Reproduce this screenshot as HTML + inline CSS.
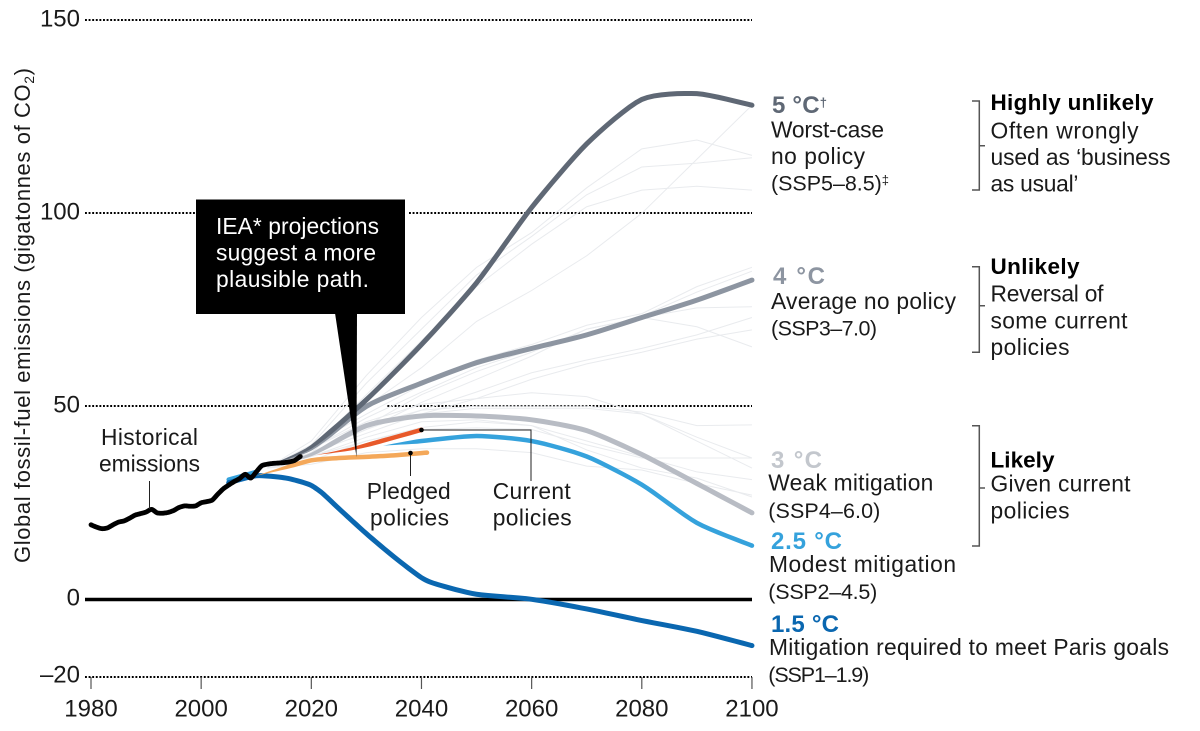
<!DOCTYPE html>
<html lang="en">
<head>
<meta charset="utf-8">
<title>Global fossil-fuel emissions scenarios</title>
<style>
html,body{margin:0;padding:0;background:#fff;width:1200px;height:731px;overflow:hidden}
svg{display:block}
text{font-family:"Liberation Sans",sans-serif;font-size:22.800px;fill:#1a1a1a}
.b{font-weight:700;font-size:22.500px}
.t{font-weight:700;font-size:24px}
.s{font-size:21.500px}
.tick{font-size:24px}
</style>
</head>
<body>
<svg id="chart" xmlns="http://www.w3.org/2000/svg" width="1200" height="731" viewBox="0 0 1200 731">
<g id="grid"></g>
<g id="thin"></g>
<g id="series"></g>
<g id="ticks"></g>

<text transform="translate(30 563) rotate(-90)" style="font-size:22px" textLength="495" lengthAdjust="spacing">Global fossil-fuel emissions (gigatonnes of CO<tspan dy="4" style="font-size:14px">2</tspan><tspan dy="-4">)</tspan></text>

<g>
<polygon points="335,313 357,313 356.500,457" fill="#000"/>
<rect x="196" y="199.500" width="209" height="114.500" fill="#000"/>
<text x="216" y="234" style="fill:#fff" textLength="163" lengthAdjust="spacing">IEA* projections</text>
<text x="216" y="260.500" style="fill:#fff" textLength="160" lengthAdjust="spacing">suggest a more</text>
<text x="216" y="287" style="fill:#fff" textLength="153" lengthAdjust="spacing">plausible path.</text>
</g>

<g >
<line x1="149.500" y1="481" x2="149.500" y2="509" stroke="#222" stroke-width="1"/>
<text x="101" y="445" textLength="97" lengthAdjust="spacing">Historical</text>
<text x="99" y="471.700" textLength="101" lengthAdjust="spacing">emissions</text>
<line x1="410.500" y1="453" x2="410.500" y2="476" stroke="#222" stroke-width="1"/>
<circle cx="410.500" cy="453" r="2.300" fill="#000"/>
<text x="366.700" y="499" textLength="84" lengthAdjust="spacing">Pledged</text>
<text x="370" y="525.700" textLength="79" lengthAdjust="spacing">policies</text>
<polyline points="421.500,430 531,430 531,481" fill="none" stroke="#222" stroke-width="1"/>
<circle cx="421.500" cy="430" r="2.300" fill="#000"/>
<text x="492.700" y="499" textLength="78" lengthAdjust="spacing">Current</text>
<text x="492.700" y="525.700" textLength="79" lengthAdjust="spacing">policies</text>
</g>

<g>
<text class="t" x="772" y="113" style="fill:#5f6875" textLength="55" lengthAdjust="spacing">5 °C<tspan dy="-6" style="font-size:13px">†</tspan></text>
<text x="771" y="137.500" textLength="113" lengthAdjust="spacing">Worst-case</text>
<text x="771" y="164" textLength="94" lengthAdjust="spacing">no policy</text>
<text class="s" x="771" y="190.600" textLength="118" lengthAdjust="spacing">(SSP5–8.5)<tspan dy="-6" style="font-size:13px">‡</tspan></text>
<text class="t" x="773" y="284" style="fill:#8d95a1" textLength="52" lengthAdjust="spacing">4 °C</text>
<text x="771" y="309" textLength="185" lengthAdjust="spacing">Average no policy</text>
<text class="s" x="771" y="335.600" textLength="106" lengthAdjust="spacing">(SSP3–7.0)</text>
<text class="t" x="771" y="468" style="fill:#c3c7cd" textLength="51" lengthAdjust="spacing">3 °C</text>
<text x="768.300" y="490.700" textLength="165" lengthAdjust="spacing">Weak mitigation</text>
<text class="s" x="768.300" y="518" textLength="112" lengthAdjust="spacing">(SSP4–6.0)</text>
<text class="t" x="771" y="549" style="fill:#35a2dc" textLength="71" lengthAdjust="spacing">2.5 °C</text>
<text x="769" y="572" textLength="187" lengthAdjust="spacing">Modest mitigation</text>
<text class="s" x="768.300" y="599" textLength="109" lengthAdjust="spacing">(SSP2–4.5)</text>
<text class="t" x="771" y="632" style="fill:#0a67b0" textLength="68" lengthAdjust="spacing">1.5 °C</text>
<text x="769" y="655" textLength="400" lengthAdjust="spacing">Mitigation required to meet Paris goals</text>
<text class="s" x="768.300" y="682" textLength="101" lengthAdjust="spacing">(SSP1–1.9)</text>
</g>

<g>
<path d="M972 101H979.300V190H972M979.300 145.700H985" fill="none" stroke="#555" stroke-width="1.500"/>
<text class="b" x="990.500" y="110" style="fill:#000" textLength="163" lengthAdjust="spacing">Highly unlikely</text>
<text x="990.500" y="138.300" textLength="148" lengthAdjust="spacing">Often wrongly</text>
<text x="990.500" y="165" textLength="180" lengthAdjust="spacing">used as ‘business</text>
<text x="990.500" y="191.700" textLength="88" lengthAdjust="spacing">as usual’</text>
<path d="M972 266.700H979.300V352.300H972M979.300 305.700H985" fill="none" stroke="#555" stroke-width="1.500"/>
<text class="b" x="990.500" y="274" style="fill:#000" textLength="89" lengthAdjust="spacing">Unlikely</text>
<text x="990.500" y="301.700" textLength="113" lengthAdjust="spacing">Reversal of</text>
<text x="990.500" y="328.300" textLength="137" lengthAdjust="spacing">some current</text>
<text x="990.500" y="355" textLength="79" lengthAdjust="spacing">policies</text>
<path d="M972 425.700H979.300V546H972M979.300 488H985" fill="none" stroke="#555" stroke-width="1.500"/>
<text class="b" x="990.500" y="467.700" style="fill:#000" textLength="64" lengthAdjust="spacing">Likely</text>
<text x="990.500" y="491.700" textLength="140" lengthAdjust="spacing">Given current</text>
<text x="990.500" y="518.300" textLength="79" lengthAdjust="spacing">policies</text>
</g>
</svg>

<script>
const xTickYears = [1980, 2000, 2020, 2040, 2060, 2080, 2100];
const yDottedTicks = [150, 100, 50, -20];
const yTickLabels = ["150", "100", "50", "0", "–20"];
const yTickValues = [150, 100, 50, 0, -20];

const histYears = [1980,1981,1982,1983,1984,1985,1986,1987,1988,1989,1990,1991,1992,1993,1994,1995,1996,1997,1998,1999,2000,2001,2002,2003,2004,2005,2006,2007,2008,2009,2010,2011,2012,2013,2014,2015,2016,2017,2018];
const histValues = [19.3,18.7,18.3,18.5,19.3,20,20.3,21,21.8,22.2,22.6,23.3,22.4,22.3,22.5,23,23.8,24.2,24.1,24.2,25,25.3,25.7,27.2,28.6,29.6,30.5,31.3,32.4,31.4,33,34.6,35,35.2,35.3,35.4,35.6,36,37];

const fanYears = [2012,2020,2030,2040,2050,2060,2070,2080,2090,2100];
const ssp585 = [34.5,39.5,51.7,66,82,101.5,118,129.5,131,128];
const ssp370 = [34.5,39,50,56,61.3,65,68.5,73,77.5,82.7];
const ssp460 = [34.5,37.5,45,47.5,47.5,46.5,43.7,37.5,30,22.4];

const ssp245Years = [2033,2040,2050,2060,2070,2080,2090,2100];
const ssp245 = [39.8,41,42.3,41,37,29.7,19.8,13.9];
const ssp245HistYears = [2005,2010];
const ssp245Hist = [31,33];

const ssp119Years = [2005,2010,2015,2018,2020,2022,2025,2030,2035,2040,2043,2050,2060,2070,2080,2090,2100];
const ssp119 = [30.2,32,31.5,30.5,29.5,27.5,23.5,17,11,5.6,3.8,1.3,0,-2.5,-5.5,-8.3,-12];

const currentYears = [2021,2028,2040];
const currentPolicies = [37.4,39.2,43.9];
const pledgedYears = [2010,2015,2020,2025,2030,2035,2041];
const pledgedPolicies = [32,34,36,36.6,36.9,37.3,38];

const thinA = [34,38,50,60,72,80,89,100,114,128];
const thinB = [34,41,58,73,86,95,106.6,116.7,119,115];
const thinC = [34,40,56,70,84,94,104.8,112,113,114.4];
const thinD = [34,39,53,67,81,92,101.7,106,107,106];
const thinE = [34,40,48,55.5,62,66,71,74,81,86];
const thinF = [34,39,47,53.7,60,64.6,69,73.4,79.6,85];
const thinG = [34,38,45,53,59,64,70,73,75.5,75.8];
const thinH = [34,38,44,51,57,63,70,73,70.6,65.4];
const thinI = [34,38,44,49,53.7,58.7,62,65,68.5,73];
const thinJ = [34,38,43,48,52,57,61,64,67.4,69.8];
const thinK = [34,38,45,49,50,50,50,48.5,45,45.2];
const thinL = [34,39,46,50.5,52,53.5,52.5,48,41,34];
const thinM = [34,38,45,48,49.5,49.5,49.5,48,42,36.6];
const thinN = [34,37,41,44.5,46,45,38.7,34,31.4,26.5];
const thinO = [34,36,41,44,44.4,44,40,36.6,36.6,36.6];
const thinP = [34,37,42,46,46.5,45,41,37,33,31];
const thinQ = [34,35,38,39,39,38,34.5,33.5,30,27];
const thinLines = [thinA,thinB,thinC,thinD,thinE,thinF,thinG,thinH,thinI,thinJ,thinK,thinL,thinM,thinN,thinO,thinP,thinQ];

const NS = 'http://www.w3.org/2000/svg';
const xScale = year => 91 + (year - 1980) * 5.508;
const yScale = v => 599.3 - v * 3.86;

function mk(tag, attrs, parent) {
  const el = document.createElementNS(NS, tag);
  for (const k in attrs) el.setAttribute(k, attrs[k]);
  parent.appendChild(el);
  return el;
}

function smoothPoints(years, values) {
  const p = years.map((yr, i) => [xScale(yr), yScale(values[i])]);
  const out = [];
  for (let i = 0; i < p.length - 1; i++) {
    const p0 = p[Math.max(0, i - 1)], p1 = p[i], p2 = p[i + 1], p3 = p[Math.min(p.length - 1, i + 2)];
    for (let s = 0; s < 8; s++) {
      const t = s / 8, t2 = t * t, t3 = t2 * t;
      const c = d => {
        const m1 = (p2[d] - p0[d]) * 0.35, m2 = (p3[d] - p1[d]) * 0.35;
        return (2*t3 - 3*t2 + 1) * p1[d] + (t3 - 2*t2 + t) * m1 + (-2*t3 + 3*t2) * p2[d] + (t3 - t2) * m2;
      };
      out.push([c(0), c(1)]);
    }
  }
  out.push(p[p.length - 1]);
  return out;
}

function ribbonPath(years, values, width, taperPx) {
  const pts = smoothPoints(years, values);
  const left = [], right = [];
  let dist = 0;
  pts.forEach((pt, i) => {
    const a = pts[Math.max(0, i - 1)], b = pts[Math.min(pts.length - 1, i + 1)];
    if (i > 0) dist += Math.hypot(pt[0] - pts[i-1][0], pt[1] - pts[i-1][1]);
    const dx = b[0] - a[0], dy = b[1] - a[1], len = Math.hypot(dx, dy) || 1;
    const w = (taperPx > 0 ? Math.min(1, dist / taperPx) : 1) * width / 2;
    left.push([pt[0] - dy / len * w, pt[1] + dx / len * w]);
    right.push([pt[0] + dy / len * w, pt[1] - dx / len * w]);
  });
  const all = left.concat(right.reverse());
  return 'M' + all.map(q => q[0].toFixed(2) + ' ' + q[1].toFixed(2)).join('L') + 'Z';
}

const gridG = document.getElementById('grid');
yDottedTicks.forEach(v => {
  const gy = Math.round(yScale(v));
  const line = mk('line', {x1: 85, x2: 752, y1: gy, y2: gy, stroke: '#000', 'stroke-width': 2, 'stroke-dasharray': '1.9 1.7'}, gridG);
  
  
});
const gap = mk('rect', {x: 350, y: yScale(50) - 5, width: 37, height: 10, fill: '#fff'}, gridG);


const gap2 = mk('rect', {x: 405, y: yScale(100) - 5, width: 3, height: 10, fill: '#fff'}, gridG);


const zeroY = Math.round(yScale(0)) + 0.5;
const zero = mk('line', {x1: 85, x2: 752, y1: zeroY, y2: zeroY, stroke: '#000', 'stroke-width': 3.4}, gridG);



const thinGroup = document.getElementById('thin');
thinLines.forEach(vals => {
  const pl = mk('polyline', {points: fanYears.map((yr, i) => xScale(yr) + ',' + yScale(vals[i])).join(' '), fill: 'none', stroke: '#e9ebee', 'stroke-width': 1}, thinGroup);
  
  
});

const seriesG = document.getElementById('series');
function drawSeries(name, years, values, color, width, taperPx) {
  const path = mk('path', {d: ribbonPath(years, values, width, taperPx), fill: color}, seriesG);
  
  
  const last = years.length - 1;
  const cap = mk('circle', {cx: xScale(years[last]), cy: yScale(values[last]), r: width / 2, fill: color}, seriesG);
  
  
  if (!taperPx) {
    const cap0 = mk('circle', {cx: xScale(years[0]), cy: yScale(values[0]), r: width / 2, fill: color}, seriesG);
    
    
  }
}
drawSeries('ssp4-6-0-line', fanYears, ssp460, '#b8bcc4', 5, 70);
drawSeries('ssp3-7-0-line', fanYears, ssp370, '#8d95a1', 5, 70);
drawSeries('ssp5-8-5-line', fanYears, ssp585, '#5f6875', 5, 70);
drawSeries('ssp2-4-5-line', ssp245Years, ssp245, '#35a2dc', 4.5, 35);
drawSeries('ssp2-4-5-history', ssp245HistYears, ssp245Hist, '#35a2dc', 4.5, 0);
drawSeries('ssp1-1-9-line', ssp119Years, ssp119, '#0a67b0', 5, 0);
drawSeries('current-policies-line', currentYears, currentPolicies, '#e8592a', 4.5, 55);
drawSeries('pledged-policies-line', pledgedYears, pledgedPolicies, '#f4a85a', 4.5, 40);
drawSeries('historical-emissions-line', histYears, histValues, '#000', 4.8, 0);

const ticksG = document.getElementById('ticks');
xTickYears.forEach(yr => {
  const t = mk('line', {x1: xScale(yr), x2: xScale(yr), y1: 677, y2: 689, stroke: '#555', 'stroke-width': 1.2}, ticksG);
  
  
  const label = mk('text', {x: xScale(yr), y: 716.7, 'text-anchor': 'middle', class: 'tick'}, ticksG);
  
  
  label.textContent = String(yr);
});
yTickValues.forEach((v, i) => {
  const label = mk('text', {x: 80, y: yScale(v) + 6, 'text-anchor': 'end', class: 'tick'}, ticksG);
  
  
  label.textContent = yTickLabels[i];
});
</script>
</body>
</html>
